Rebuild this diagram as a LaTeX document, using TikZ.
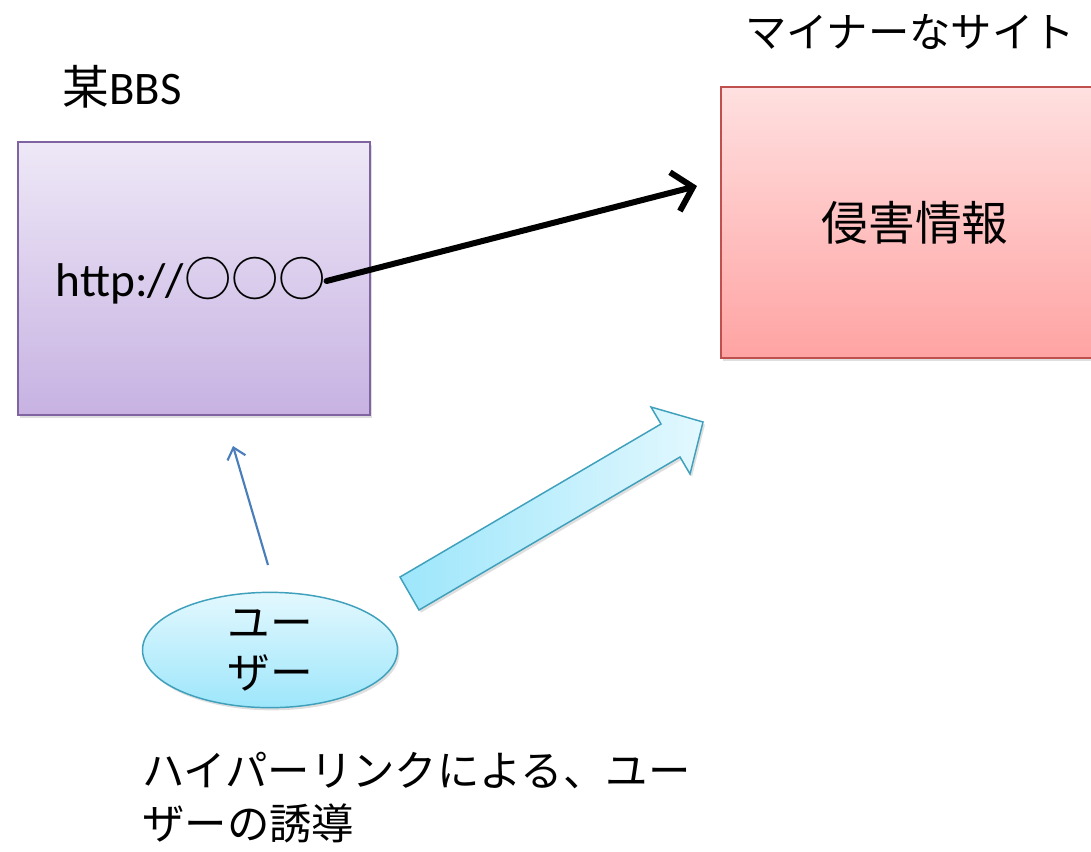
\documentclass[tikz,border=0pt]{standalone}
\usepackage{fontspec}
\setmainfont{Carlito}
\newfontfamily\cjk{Noto Sans CJK JP}
\usetikzlibrary{arrows.meta,shapes.geometric,shadows}
\definecolor{bbsTop}{HTML}{EEE8F7}
\definecolor{bbsBot}{HTML}{C7B2E2}
\definecolor{bbsLine}{HTML}{8064A2}
\definecolor{redTop}{HTML}{FFE0E0}
\definecolor{redBot}{HTML}{FFA3A3}
\definecolor{redLine}{HTML}{C0504D}
\definecolor{cyL}{HTML}{9DE6FB}
\definecolor{cyR}{HTML}{E3F8FE}
\definecolor{cyLine}{HTML}{3FA0BC}
\definecolor{thinBlue}{HTML}{4A7EBB}
\tikzset{
  soft/.style={drop shadow={shadow xshift=1.5pt,shadow yshift=-2pt,opacity=0.25}},
  bbsbox/.style={draw=bbsLine,line width=1.1pt,top color=bbsTop,bottom color=bbsBot,
    minimum width=264pt,minimum height=204.75pt,inner sep=0,soft},
  sitebox/.style={draw=redLine,line width=1.1pt,top color=redTop,bottom color=redBot,
    minimum width=291pt,minimum height=203.25pt,inner sep=0,soft,
    font=\fontsize{35}{40}\cjk},
  userell/.style={ellipse,draw=cyLine,line width=1.1pt,top color=cyR,bottom color=cyL,
    minimum width=191.25pt,minimum height=78pt,inner sep=0,soft,align=center,
    font=\fontsize{32}{37.5}\cjk},
  jlabel/.style={font=\fontsize{31}{40}\cjk,inner sep=0},
}
\begin{document}
\begin{tikzpicture}[x=0.75pt,y=-0.75pt]
\clip (0,0) rectangle (1091,851);
\fill[white] (0,0) rectangle (1091,851);
% boxes
\node[bbsbox] (bbs) at (194,278.5) {};
\node[sitebox] (site) at (915,222.5) {侵害情報};
\node[font=\fontsize{35}{40}\selectfont,inner sep=0] (bbslabel) at (122,87) {{\cjk 某}BBS};
\node[jlabel] (sitelabel) at (910,32) {マイナーなサイト};
\node[font=\fontsize{35.5}{40}\selectfont,inner sep=0] (url) at (191,281) {http://{\cjk ○○○}};
% black arrow
\coordinate (tip) at (697,186);
\draw[line width=4.5pt,line cap=round,-{Straight Barb[length=14pt,width=30pt,line width=4.5pt]}] (url.east) -- (tip);
% user
\node[userell] (user) at (270,650) {ユー\\ザー};
% thin arrow
\coordinate (thinfrom) at (268,565);
\coordinate (thinto) at (233,446);
\draw[thinBlue,line width=1.6pt,-{Straight Barb[length=8pt,width=14pt]}] (thinfrom) -- (thinto);
% big arrow
\path[draw=cyLine,line width=1.1pt,left color=cyL,right color=cyR,line join=miter,soft]
  (400,577) -- (661,424) -- (651,407) -- (703,422) -- (690,474) -- (680,457) -- (419,610) -- cycle;
% caption
\node[font=\fontsize{31.8}{40}\cjk,inner sep=0,anchor=north west,align=left] (caption) at (142,752) {ハイパーリンクによる、ユー\\ザーの誘導};
\end{tikzpicture}
\end{document}
